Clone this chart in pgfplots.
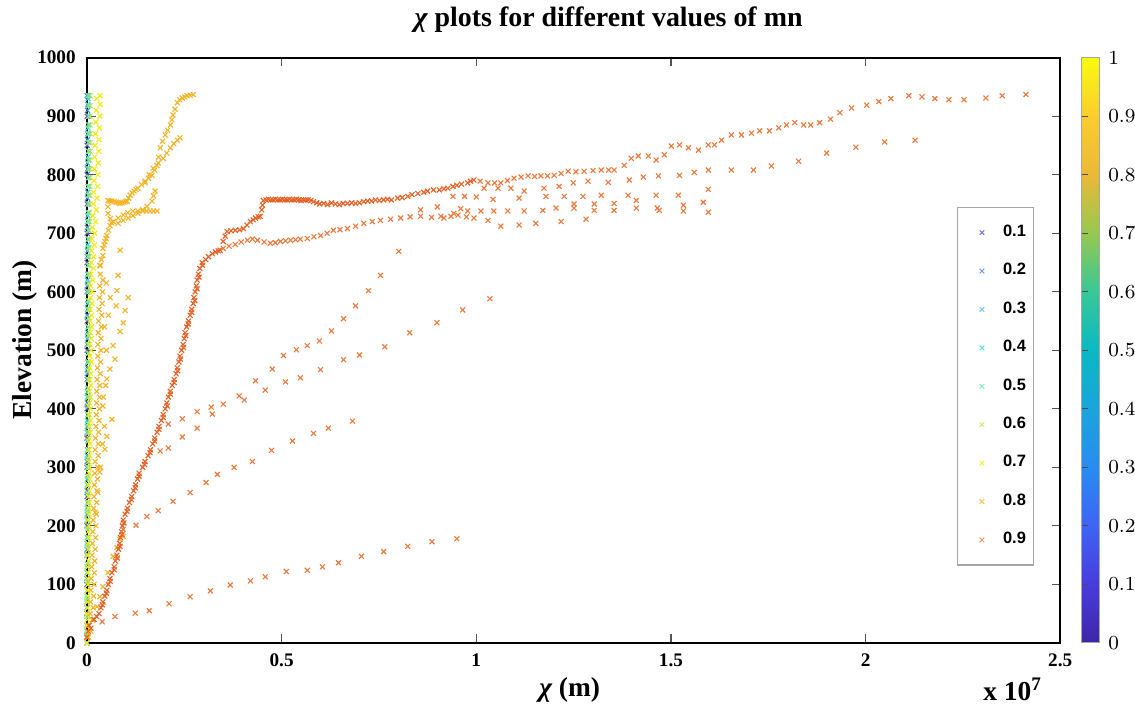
\documentclass[border=0pt]{standalone}
\usepackage{fontspec}
\setmainfont{Liberation Serif}
\newfontfamily\legfont{Liberation Sans}
\usepackage{pgfplots}
\pgfplotsset{compat=1.18}
\definecolor{c1}{RGB}{85,85,205}
\definecolor{c2}{RGB}{75,135,225}
\definecolor{c3}{RGB}{60,195,230}
\definecolor{c4}{RGB}{45,220,220}
\definecolor{c5}{RGB}{110,225,170}
\definecolor{c6}{RGB}{195,230,80}
\definecolor{c7}{RGB}{245,235,20}
\definecolor{c8}{RGB}{245,180,40}
\definecolor{c9}{RGB}{236,122,62}
\definecolor{c9d}{RGB}{230,98,38}
\pgfplotsset{sc/.style={only marks, mark=x, mark size=1.4pt, line width=0.45pt, forget plot},
  lg/.style={only marks, mark=x, mark size=1.3pt, line width=0.4pt}}

\begin{document}
\begin{tikzpicture}
\begin{axis}[name=ax, at={(0,0)}, anchor=south west,
  scale only axis, width=13.72cm, height=8.25cm,
  xmin=0, xmax=2.5, ymin=0, ymax=1000, enlargelimits=false,
  xtick={0,0.5,1,1.5,2,2.5}, ytick={0,100,200,300,400,500,600,700,800,900,1000},
  scaled ticks=false,
  /pgf/number format/assume math mode=true, /pgf/number format/1000 sep={},
  tick label style={font=\bfseries\fontsize{7.7}{9}\selectfont},
  yticklabel style={xshift=-1pt}, xticklabel style={yshift=-1pt},
  tick align=inside, major tick length=3.5pt,
  tick style={gray!65!black, line width=0.5pt},
  axis line style={line width=0.8pt},
  every axis title shift=0pt,
  title={{\itshape χ} plots for different values of mn},
  title style={font=\bfseries\fontsize{11.2}{13}\selectfont, at={(axis description cs:0.536,1.065)}, anchor=center},
  xlabel={{\itshape χ} (m)},
  xlabel style={font=\bfseries\fontsize{11}{13}\selectfont, at={(axis description cs:0.496,-0.080)}, anchor=center},
  ylabel={Elevation (m)},
  ylabel style={font=\bfseries\fontsize{11}{13}\selectfont, at={(axis description cs:-0.0637,0.518)}, anchor=center},
  colormap={parulaish}{rgb255=(62,38,168) rgb255=(71,60,220) rgb255=(62,100,245) rgb255=(40,140,240) rgb255=(25,165,220) rgb255=(10,185,195) rgb255=(55,200,150) rgb255=(150,200,80) rgb255=(235,185,55) rgb255=(250,205,45) rgb255=(249,251,14)},
  colorbar, point meta min=0, point meta max=1,
  colorbar style={at={(parent axis.north east)}, anchor=north west, xshift=0cm, width=0.254cm,
    ytick={0,0.1,0.2,0.3,0.4,0.5,0.6,0.7,0.8,0.9,1},
    yticklabel pos=right, ytick pos=left, tick align=inside, major tick length=2.5pt,
    tick style={gray!60!black, line width=0.4pt},
    axis line style={line width=0.4pt, draw=gray!70},
    yticklabel style={font=\bfseries\fontsize{7.7}{9}\selectfont}},
  legend image code/.code={\path (0cm,0cm) (0.52cm,0cm);
    \draw[#1] plot coordinates {(0.3cm,0cm)};},
  legend style={at={(axis description cs:0.894,0.745)}, anchor=north west, draw=gray!70, line width=0.5pt,
    fill=white, font=\legfont\bfseries\fontsize{6.6}{8}\selectfont, row sep=5.3pt, inner xsep=1pt, inner ysep=5pt},
  legend cell align=left]

% mn = 0.1 ... 0.4 (hidden along x = 0)
\addplot[sc, c1] coordinates {(0,0)(0.0001,50)(0.0001,100)(0.0002,150)(0.0002,200)(0.0003,250)(0.0003,300)(0.0003,350)(0.0004,400)(0.0004,450)(0.0004,500)(0.0005,550)(0.0005,600)(0.0005,650)(0.0006,700)(0.0006,750)(0.0006,800)(0.0007,850)(0.0007,900)(0.0007,935)};
\addplot[sc, c2] coordinates {(0,10)(0.0002,60)(0.0003,110)(0.0004,160)(0.0005,210)(0.0006,260)(0.0006,310)(0.0007,360)(0.0008,410)(0.0008,460)(0.0009,510)(0.0009,560)(0.0010,610)(0.0010,660)(0.0011,710)(0.0012,760)(0.0012,810)(0.0013,860)(0.0013,910)(0.0013,935)};
\addplot[sc, c3] coordinates {(0,20)(0.0003,70)(0.0004,120)(0.0006,170)(0.0007,220)(0.0008,270)(0.0009,320)(0.0010,370)(0.0011,420)(0.0012,470)(0.0013,520)(0.0014,570)(0.0015,620)(0.0016,670)(0.0017,720)(0.0018,770)(0.0019,820)(0.0020,870)(0.0021,920)(0.0021,935)};
\addplot[sc, c4] coordinates {(0,30)(0.0004,80)(0.0006,130)(0.0008,180)(0.0010,230)(0.0011,280)(0.0012,330)(0.0014,380)(0.0015,430)(0.0016,480)(0.0018,530)(0.0019,580)(0.0020,630)(0.0022,680)(0.0024,730)(0.0026,780)(0.0027,830)(0.0028,880)(0.0029,930)};

% mn = 0.6
\addplot[sc, c6] coordinates {(0.0000,0)(0.0004,30)(0.0008,60)(0.0011,90)(0.0014,120)(0.0017,150)(0.0020,180)(0.0023,210)(0.0026,240)(0.0028,270)(0.0031,300)(0.0033,330)(0.0036,360)(0.0038,390)(0.0040,420)(0.0042,450)(0.0044,480)(0.0046,510)(0.0048,540)(0.0050,570)(0.0052,600)(0.0055,630)(0.0058,660)(0.0061,690)(0.0065,720)(0.0069,750)(0.0072,780)(0.0075,810)(0.0077,840)(0.0079,870)(0.0081,900)(0.0082,935)
 (0.0002,15)(0.0006,45)(0.0010,75)(0.0013,105)(0.0016,135)(0.0019,165)(0.0022,195)(0.0025,225)(0.0027,255)(0.0030,285)(0.0032,315)(0.0035,345)(0.0037,375)(0.0039,405)(0.0041,435)(0.0043,465)(0.0045,495)(0.0047,525)(0.0049,555)(0.0051,585)(0.0054,615)(0.0057,645)(0.0060,675)(0.0063,705)(0.0067,735)(0.0071,765)(0.0074,795)(0.0076,825)(0.0078,855)(0.0080,885)(0.0082,918)};

% mn = 0.5
\addplot[sc, c5] coordinates {(0.0000,0)(0.0002,30)(0.0004,60)(0.0005,90)(0.0007,120)(0.0008,150)(0.0010,180)(0.0011,210)(0.0013,240)(0.0014,270)(0.0015,300)(0.0016,330)(0.0018,360)(0.0019,390)(0.0020,420)(0.0021,450)(0.0022,480)(0.0023,510)(0.0024,540)(0.0025,570)(0.0026,600)(0.0027,630)(0.0029,660)(0.0030,690)(0.0032,720)(0.0034,750)(0.0036,780)(0.0037,810)(0.0038,840)(0.0039,870)(0.0040,900)(0.0041,935)
 (0.0001,15)(0.0003,45)(0.0005,75)(0.0006,105)(0.0008,135)(0.0009,165)(0.0011,195)(0.0012,225)(0.0014,255)(0.0015,285)(0.0016,315)(0.0017,345)(0.0019,375)(0.0020,405)(0.0021,435)(0.0022,465)(0.0023,495)(0.0024,525)(0.0025,555)(0.0026,585)(0.0027,615)(0.0028,645)(0.0030,675)(0.0031,705)(0.0033,735)(0.0035,765)(0.0037,795)(0.0038,825)(0.0039,855)(0.0040,885)(0.0041,918)};

% mn = 0.7
\addplot[sc, c7] coordinates {(0.000,0)(0.001,20)(0.001,40)(0.002,60)(0.002,80)(0.003,100)(0.003,120)(0.004,140)(0.004,160)(0.005,180)(0.005,200)(0.005,220)(0.006,240)(0.006,260)(0.007,280)(0.007,300)(0.007,320)(0.008,340)(0.008,360)(0.009,380)(0.009,400)(0.009,420)(0.010,440)(0.010,460)(0.011,480)(0.011,500)(0.011,520)(0.012,540)(0.012,560)(0.013,580)(0.013,600)(0.015,620)(0.016,640)(0.017,660)(0.019,680)(0.020,700)(0.022,720)(0.024,740)(0.026,760)(0.027,780)(0.028,800)(0.029,820)(0.030,840)(0.031,860)(0.032,880)(0.033,900)(0.034,920)(0.034,935)
 (0.000,10)(0.001,30)(0.001,50)(0.001,70)(0.002,90)(0.002,110)(0.002,130)(0.003,150)(0.003,170)(0.003,190)(0.003,210)(0.004,230)(0.004,250)(0.004,270)(0.005,290)(0.005,310)(0.005,330)(0.005,350)(0.006,370)(0.006,390)(0.006,410)(0.006,430)(0.007,450)(0.007,470)(0.007,490)(0.007,510)(0.008,530)(0.008,550)(0.008,570)(0.009,590)(0.009,610)(0.010,630)(0.011,650)(0.012,670)(0.013,690)(0.014,710)(0.015,730)(0.016,750)(0.017,770)(0.018,790)(0.019,810)(0.020,830)(0.021,850)(0.022,870)(0.023,890)(0.024,910)(0.025,930)};

% mn = 0.8
\addplot[sc, c8] coordinates {(0.004,10)(0.006,30)(0.008,50)(0.009,70)(0.010,90)(0.011,110)(0.012,130)(0.013,150)(0.014,170)(0.015,190)(0.016,210)(0.017,230)(0.018,250)(0.019,270)(0.020,290)(0.021,310)(0.021,330)(0.022,350)(0.023,370)(0.024,390)(0.025,410)(0.025,430)(0.026,450)(0.027,470)(0.028,490)(0.028,510)(0.029,530)(0.030,550)(0.031,570)(0.032,590)(0.033,610)(0.034,630)(0.035,645)};
\addplot[sc, c8] coordinates {(0.010,20)(0.014,40)(0.016,60)(0.017,80)(0.018,100)(0.019,120)(0.020,140)(0.021,160)(0.022,180)(0.023,200)(0.024,220)(0.025,240)(0.026,260)(0.027,280)(0.028,300)(0.029,320)(0.029,340)(0.030,360)(0.031,380)(0.032,400)(0.033,420)(0.033,440)(0.034,460)(0.035,480)(0.036,500)(0.036,520)(0.037,540)(0.038,560)(0.039,580)(0.040,600)(0.041,620)};
\addplot[sc, c8] coordinates {(0.035,300)(0.040,340)(0.045,370)(0.042,420)(0.048,440)(0.050,500)(0.045,540)(0.055,560)(0.060,590)(0.050,615)};
\addplot[sc, c8] coordinates {(0.033,645)(0.037,655)(0.041,662)(0.041,674)(0.044,680)(0.046,686)(0.049,691)(0.051,696)(0.055,705)(0.059,713)(0.063,718)(0.067,720)(0.060,725)(0.054,734)(0.054,745)(0.054,756)(0.059,755)(0.064,755)(0.070,754)(0.075,753)(0.080,752)(0.085,751)(0.090,752)(0.095,753)(0.100,754)(0.103,755)(0.107,760)(0.111,765)(0.116,769)(0.121,772)(0.126,775)(0.131,777)(0.140,783)(0.149,789)(0.158,794)(0.167,799)(0.174,808)(0.180,816)(0.184,830)(0.188,846)(0.194,857)(0.201,868)(0.207,876)(0.214,885)(0.218,894)(0.221,902)(0.226,912)(0.232,923)(0.238,928)(0.245,931)(0.251,933)(0.257,935)(0.265,936)(0.273,937)};
\addplot[sc, c8] coordinates {(0.067,720)(0.080,726)(0.093,731)(0.105,735)(0.118,738)(0.131,738)(0.144,738)(0.153,738)(0.162,738)(0.171,738)(0.180,738)};
\addplot[sc, c8] coordinates {(0.080,717)(0.093,722)(0.106,726)(0.118,730)(0.131,734)(0.143,740)(0.154,746)(0.167,755)(0.171,764)(0.175,772)};
\addplot[sc, c8] coordinates {(0.149,786)(0.160,800)(0.170,811)(0.183,820)(0.196,828)(0.205,837)(0.214,846)(0.223,853)(0.232,859)(0.239,863)};
\addplot[sc, c8] coordinates {(0.021,223)(0.028,257)(0.033,292)(0.046,331)(0.051,353)(0.064,382)(0.041,405)(0.051,451)(0.059,468)(0.072,485)(0.067,508)(0.085,532)(0.093,547)(0.098,568)(0.075,576)(0.106,590)(0.077,602)(0.080,628)(0.085,671)};
\addplot[sc, c8] coordinates {(0.015,39)(0.026,62)(0.033,79)(0.041,96)(0.054,120)(0.067,148)(0.077,163)(0.085,177)(0.093,182)};

% mn = 0.9 : trunk
\addplot[sc, c9d] coordinates {(0.000,10)(0.003,20)(0.005,30)(0.018,40)(0.031,50)(0.036,60)(0.041,70)(0.046,80)(0.051,90)(0.055,100)(0.059,110)(0.064,120)(0.070,130)(0.073,140)(0.077,150)(0.081,160)(0.084,170)(0.086,180)(0.089,190)(0.091,200)(0.093,210)(0.098,220)(0.104,230)(0.109,240)(0.115,250)(0.120,260)(0.125,270)(0.130,280)(0.134,290)(0.143,300)(0.149,310)(0.157,320)(0.163,330)(0.169,340)(0.174,350)(0.180,360)(0.185,370)(0.191,380)(0.196,390)(0.201,400)(0.205,410)(0.209,420)(0.214,430)(0.219,440)(0.224,450)(0.229,460)(0.232,470)(0.236,480)(0.239,490)(0.243,500)(0.247,510)(0.250,520)(0.252,530)(0.256,540)(0.261,550)(0.265,560)(0.269,570)(0.273,580)(0.275,590)(0.278,600)(0.281,610)(0.283,620)(0.286,630)(0.290,640)(0.296,650)(0.312,660)(0.337,670)
 (0.010,25)(0.025,45)(0.040,65)(0.050,85)(0.060,105)(0.070,125)(0.078,145)(0.085,165)(0.090,185)(0.095,205)(0.103,225)(0.114,245)(0.124,265)(0.134,285)(0.148,305)(0.162,325)(0.174,345)(0.185,365)(0.196,385)(0.206,405)(0.214,425)(0.224,445)(0.233,465)(0.240,485)(0.248,505)(0.254,525)(0.260,545)(0.269,565)(0.277,585)(0.283,605)(0.288,625)(0.297,645)(0.305,655)(0.322,665)(0.330,668)};
% upper branch
\addplot[sc, c9d] coordinates {(0.342,671)(0.350,686)(0.355,695)(0.360,703)(0.370,704)(0.381,705)(0.392,706)(0.402,708)(0.411,714)(0.420,720)(0.427,723)(0.433,726)(0.440,728)(0.445,729)(0.449,740)(0.451,748)(0.453,756)(0.460,757)(0.466,758)(0.472,757)(0.478,757)(0.484,758)(0.490,757)(0.496,757)(0.502,758)(0.508,757)(0.514,757)(0.520,758)(0.526,757)(0.532,757)(0.538,758)(0.544,757)(0.550,756)(0.556,757)(0.562,757)(0.568,757)(0.575,756)(0.582,754)(0.590,752)(0.598,750)(0.608,751)(0.618,749)(0.628,752)(0.638,750)(0.648,749)(0.658,751)(0.669,751)(0.680,752)(0.690,751)(0.700,752)(0.711,754)(0.721,755)(0.731,755)(0.741,757)(0.751,756)(0.762,757)(0.772,758)(0.782,757)(0.798,760)(0.810,761)(0.824,763)(0.835,766)(0.850,768)(0.865,770)(0.875,772)(0.890,774)(0.905,774)(0.917,776)(0.927,777)(0.940,780)(0.950,782)(0.962,784)(0.978,786)(0.985,789)(0.994,791)};
\addplot[sc, c9] coordinates {(1.010,789)(1.030,786)(1.047,786)(1.063,786)(1.080,790)(1.097,794)(1.115,796)(1.133,798)(1.150,797)(1.166,798)(1.183,798)(1.200,799)(1.218,802)(1.236,806)(1.256,805)(1.277,806)(1.300,807)(1.321,808)(1.340,808)(1.354,808)(1.380,816)(1.398,828)(1.416,832)(1.442,832)(1.462,825)(1.483,834)(1.501,849)(1.522,851)(1.545,846)(1.571,842)(1.596,851)(1.612,851)(1.630,859)(1.655,868)(1.681,868)(1.707,871)(1.728,875)(1.753,875)(1.777,880)(1.797,885)(1.818,889)(1.841,885)(1.859,885)(1.882,889)(1.910,895)(1.934,906)(1.964,914)(2.003,919)(2.034,925)(2.065,930)(2.111,935)(2.145,933)(2.178,930)(2.214,928)(2.253,928)(2.309,931)(2.351,935)(2.412,937)};
% lower branch and tributaries
\addplot[sc, c9] coordinates {(0.350,674)(0.365,678)(0.381,681)(0.396,685)(0.412,688)(0.425,690)(0.438,688)(0.455,685)(0.471,683)(0.484,684)(0.497,686)(0.510,687)(0.523,688)(0.536,689)(0.548,690)(0.566,691)(0.583,694)(0.600,696)(0.617,700)(0.633,705)(0.650,706)(0.669,708)(0.690,712)(0.711,717)(0.733,720)(0.754,722)(0.780,724)(0.806,726)(0.830,728)(0.857,729)(0.885,727)(0.917,726)(0.935,729)(0.953,731)(0.975,728)(0.994,726)};
\addplot[sc, c9] coordinates {(1.020,777)(1.056,777)(1.089,777)(1.123,772)(1.174,777)(1.213,780)(1.249,786)(1.287,789)(1.339,787)(1.393,791)(1.429,796)(1.468,798)(1.522,799)(1.560,804)(1.596,808)(1.655,808)(1.712,808)(1.758,815)(1.828,823)(1.900,837)(1.975,847)(2.049,856)(2.127,859)};
\addplot[sc, c9] coordinates {(0.940,763)(0.970,763)(1.000,762)(1.043,758)(1.110,760)(1.179,763)(1.226,763)(1.274,763)(1.321,765)(1.390,765)(1.462,765)(1.519,765)(1.596,775)};
\addplot[sc, c9] coordinates {(1.251,750)(1.303,750)(1.354,751)(1.411,756)(1.465,743)(1.532,748)(1.583,753)};
\addplot[sc, c9] coordinates {(0.909,729)(0.942,734)(0.978,738)(1.012,738)(1.045,738)(1.081,738)(1.123,738)(1.171,739)(1.205,743)(1.251,743)(1.303,739)(1.354,739)(1.411,743)(1.470,739)(1.532,738)(1.596,736)};
\addplot[sc, c9] coordinates {(0.857,740)(0.900,745)(0.960,742)(1.030,722)(1.063,712)(1.110,714)(1.153,717)(1.218,720)(1.282,724)};
\addplot[sc, c9] coordinates {(0.209,374)(0.245,383)(0.283,395)(0.319,403)(0.350,408)(0.391,422)(0.433,448)(0.476,468)(0.505,491)(0.538,501)(0.566,508)(0.597,516)(0.628,533)(0.659,554)(0.690,576)(0.723,602)(0.754,628)(0.801,669)};
\addplot[sc, c9] coordinates {(0.188,328)(0.209,333)(0.245,352)(0.283,367)(0.322,391)(0.404,415)(0.458,432)(0.510,446)(0.548,453)(0.600,467)(0.659,484)(0.700,492)(0.765,506)(0.829,530)(0.899,547)(0.965,569)(1.035,588)};
\addplot[sc, c9] coordinates {(0.093,194)(0.126,201)(0.154,216)(0.183,226)(0.221,242)(0.265,257)(0.306,274)(0.335,288)(0.378,300)(0.425,310)(0.474,329)(0.528,345)(0.582,358)(0.620,367)(0.682,379)};
\addplot[sc, c9] coordinates {(0.039,36)(0.072,45)(0.124,51)(0.160,55)(0.211,67)(0.265,79)(0.317,89)(0.368,99)(0.420,106)(0.458,113)(0.512,122)(0.566,124)(0.605,130)(0.646,137)(0.705,148)(0.762,156)(0.824,165)(0.886,173)(0.950,178)};

\addlegendimage{lg, c1!80}
\addlegendentry{0.1}
\addlegendimage{lg, c2!80}
\addlegendentry{0.2}
\addlegendimage{lg, c3!80}
\addlegendentry{0.3}
\addlegendimage{lg, c4!80}
\addlegendentry{0.4}
\addlegendimage{lg, c5!80}
\addlegendentry{0.5}
\addlegendimage{lg, c6!80}
\addlegendentry{0.6}
\addlegendimage{lg, c7!80}
\addlegendentry{0.7}
\addlegendimage{lg, c8!80}
\addlegendentry{0.8}
\addlegendimage{lg, c9!80}
\addlegendentry{0.9}
\end{axis}
\node[font=\bfseries\fontsize{11}{13}\selectfont] at (13.05cm,-0.66cm) {x 10\textsuperscript{7}};
\pgfresetboundingbox
\path[use as bounding box] (-1.226cm,-0.973cm) rectangle (14.774cm,9.063cm);
\end{tikzpicture}
\end{document}
